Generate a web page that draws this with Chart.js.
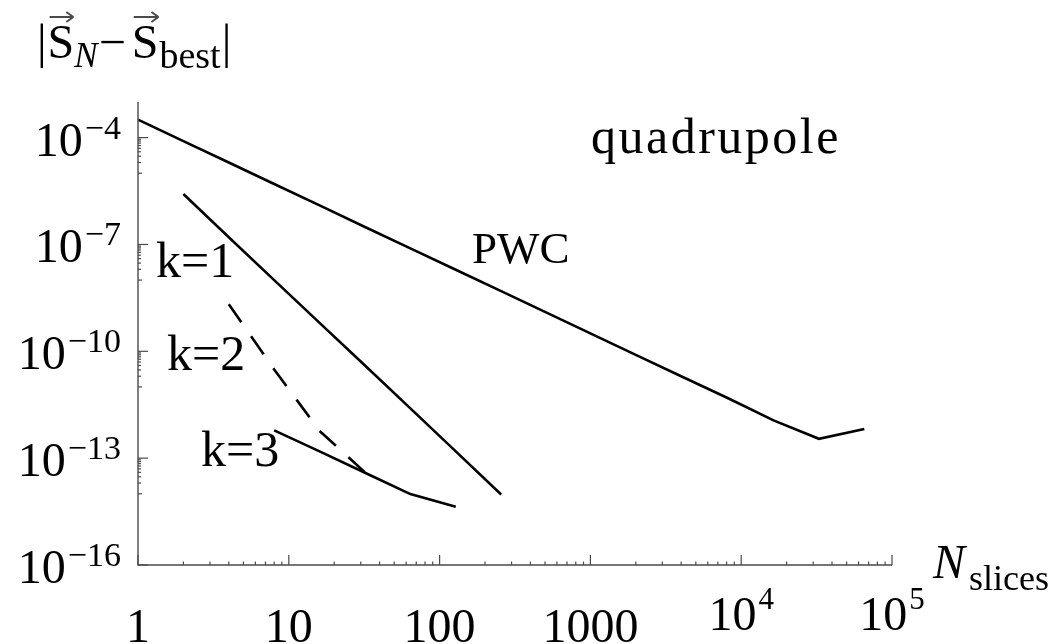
<!DOCTYPE html>
<html>
<head>
<meta charset="utf-8">
<script src="https://cdn.jsdelivr.net/npm/chart.js@4.4.1/dist/chart.umd.min.js"></script>
<style>
  html, body { margin: 0; padding: 0; background: #fff; }
  canvas { display: block; }
</style>
</head>
<body>
<canvas id="errChart" width="1058" height="644"></canvas>
<script>
// slice counts and deviation from the best solution
const pwcN   = [1, 2, 4, 8, 16, 32, 64, 128, 256, 512, 1024, 2048, 4096, 8192, 16384, 32768, 65536];
const pwcErr = [3.2e-4, 8.0e-5, 2.0e-5, 5.0e-6, 1.25e-6, 3.1e-7, 7.8e-8, 1.95e-8, 4.9e-9, 1.22e-9,
                3.05e-10, 7.6e-11, 1.9e-11, 4.8e-12, 1.15e-12, 3.5e-13, 6.6e-13];

const k1N   = [2, 4, 8, 16, 32, 64, 128, 256];
const k1Err = [2.6e-6, 1.6e-7, 1.0e-8, 6.3e-10, 4.0e-11, 2.5e-12, 1.55e-13, 9.5e-15];

const k2N   = [4, 8, 16, 32];
const k2Err = [2.1e-9, 3.1e-11, 5.8e-13, 4.0e-14];

const k3N   = [8, 16, 32, 64, 128];
const k3Err = [6.0e-13, 1.55e-13, 3.9e-14, 9.8e-15, 4.3e-15];

// axis ticks
const xTickValues = [1, 10, 100, 1000, 1e4, 1e5];
const xTickLabels = ['1', '10', '100', '1000', '10^4', '10^5'];
const yTickValues = [1e-4, 1e-7, 1e-10, 1e-13, 1e-16];
const yTickLabels = ['10^\u22124', '10^\u22127', '10^\u221210', '10^\u221213', '10^\u221216'];

const SERIF = '"Liberation Serif", "DejaVu Serif", serif';

function pts(xs, ys) {
    return xs.map((v, i) => ({ x: v, y: ys[i] }));
}

function line(ctx, x1, y1, x2, y2) {
    ctx.beginPath();
    ctx.moveTo(x1, y1);
    ctx.lineTo(x2, y2);
    ctx.stroke();
}

function text(ctx, str, x, y, size, align, italic) {
    ctx.font = (italic ? 'italic ' : '') + size + 'px ' + SERIF;
    ctx.textAlign = align || 'left';
    ctx.textBaseline = 'alphabetic';
    ctx.fillText(str, x, y);
    return ctx.measureText(str).width;
}

// a vector arrow above a letter
function vecArrow(ctx, x1, x2, y) {
    ctx.lineWidth = 2;
    line(ctx, x1, y, x2, y);
    line(ctx, x2, y, x2 - 7, y - 5);
    line(ctx, x2, y, x2 - 7, y + 5);
}

// frame, log ticks, tick labels and text annotations
const framePainter = {
    id: 'framePainter',
    afterDatasetsDraw(chart) {
        const { ctx, chartArea: a, scales: { x, y } } = chart;
        ctx.save();
        ctx.strokeStyle = '#4a4a4a';
        ctx.lineWidth = 1.4;
        ctx.beginPath();
        ctx.moveTo(a.left, a.top);
        ctx.lineTo(a.left, a.bottom);
        ctx.lineTo(a.right, a.bottom);
        ctx.stroke();

        ctx.lineWidth = 1.2;
        // x: major tick every decade, minor 2..9
        xTickValues.forEach((v, i) => {
            const px = x.getPixelForValue(v);
            line(ctx, px, a.bottom, px, a.bottom - 10);
            if (i < xTickValues.length - 1) {
                for (let j = 2; j <= 9; j++) {
                    const mx = x.getPixelForValue(v * j);
                    line(ctx, mx, a.bottom, mx, a.bottom - 3.5);
                }
            }
        });
        // y: major tick every third decade, minor ticks in the decade below it
        yTickValues.forEach((v, i) => {
            const py = y.getPixelForValue(v);
            line(ctx, a.left, py, a.left + 10, py);
            if (i < yTickValues.length - 1) {
                for (let j = 1; j <= 9; j++) {
                    const my = y.getPixelForValue(v / 10 * j);
                    line(ctx, a.left, my, a.left + (j === 1 ? 4 : 3), my);
                }
            }
        });

        ctx.fillStyle = '#000';
        // x tick labels
        xTickValues.forEach((v, i) => {
            const px = x.getPixelForValue(v);
            const parts = xTickLabels[i].split('^');
            if (parts.length === 1) {
                text(ctx, parts[0], px, 642, 48, 'center');
            } else {
                ctx.font = '48px ' + SERIF;
                const wb = ctx.measureText(parts[0]).width;
                ctx.font = '31px ' + SERIF;
                const we = ctx.measureText(parts[1]).width;
                const left = px - (wb + we + 2) / 2;
                text(ctx, parts[0], left, 630, 48);
                text(ctx, parts[1], left + wb + 2, 609, 31);
            }
        });
        // y tick labels, right aligned
        yTickValues.forEach((v, i) => {
            const py = y.getPixelForValue(v);
            const parts = yTickLabels[i].split('^');
            ctx.font = '34px ' + SERIF;
            const we = ctx.measureText(parts[1]).width;
            text(ctx, parts[1], 121, py + 1, 34, 'right');
            text(ctx, parts[0], 121 - we - 2, py + 18, 48, 'right');
        });

        // axis titles
        let cx = 37;
        cx += text(ctx, '|', cx, 58, 48);
        const s1 = cx + 1;
        cx += text(ctx, 'S', s1, 58, 48) + 1;
        vecArrow(ctx, s1 + 2, cx - 1, 17);
        cx += text(ctx, 'N', cx, 67, 35, 'left', true) + 1;
        cx += text(ctx, '\u2212', cx, 58, 48) + 6;
        const s2 = cx;
        cx += text(ctx, 'S', s2, 58, 48);
        vecArrow(ctx, s2 + 2, cx, 17);
        cx += text(ctx, 'best', cx + 1, 68, 38) + 2;
        text(ctx, '|', cx, 58, 48);

        const nw = text(ctx, 'N', 933, 578, 48, 'left', true);
        text(ctx, 'slices', 933 + nw + 4, 590, 36);

        // curve annotations
        ctx.letterSpacing = '2.5px';
        text(ctx, 'quadrupole', 591, 153, 50);
        ctx.letterSpacing = '0px';
        text(ctx, 'PWC', 472, 263, 45);
        text(ctx, 'k=1', 156, 277, 50);
        text(ctx, 'k=2', 167, 370, 50);
        text(ctx, 'k=3', 201, 466, 50);
        ctx.restore();
    }
};

const curveStyle = { borderColor: '#000', borderWidth: 2.6, pointRadius: 0, tension: 0, fill: false };

new Chart(document.getElementById('errChart'), {
    type: 'line',
    data: {
        datasets: [
            Object.assign({ label: 'PWC', data: pts(pwcN, pwcErr) }, curveStyle),
            Object.assign({ label: 'k=1', data: pts(k1N, k1Err) }, curveStyle),
            Object.assign({ label: 'k=2', data: pts(k2N, k2Err), borderDash: [22, 17] }, curveStyle),
            Object.assign({ label: 'k=3', data: pts(k3N, k3Err) }, curveStyle)
        ]
    },
    options: {
        responsive: false,
        animation: false,
        devicePixelRatio: 1,
        layout: { padding: { left: 138, right: 166, top: 102, bottom: 79 } },
        plugins: { legend: { display: false }, tooltip: { enabled: false } },
        scales: {
            x: { type: 'logarithmic', min: 1, max: 1e5, display: false },
            y: { type: 'logarithmic', min: 1e-16, max: 1e-3, display: false }
        }
    },
    plugins: [framePainter]
});
</script>
</body>
</html>
